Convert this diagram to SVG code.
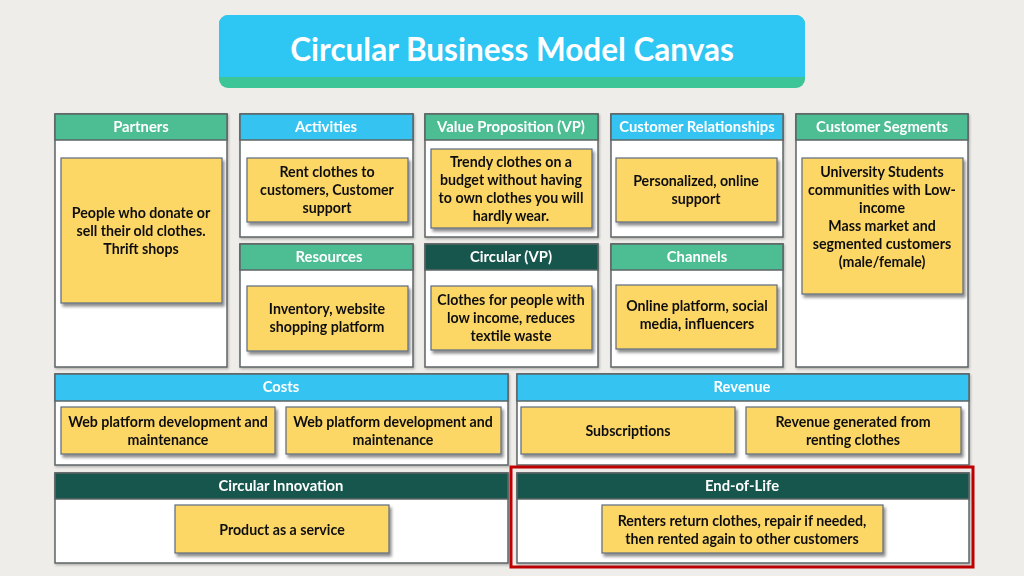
<svg xmlns="http://www.w3.org/2000/svg" width="1024" height="576" viewBox="0 0 1024 576">
<defs>
<filter id="sh" x="-10%" y="-10%" width="130%" height="140%">
<feDropShadow dx="2" dy="3" stdDeviation="1.5" flood-color="#000" flood-opacity="0.45"/>
</filter>
<filter id="psh" x="-5%" y="-5%" width="110%" height="115%">
<feDropShadow dx="1" dy="1.5" stdDeviation="1" flood-color="#000" flood-opacity="0.25"/>
</filter>
</defs>
<style>
.panel{fill:#ffffff;stroke:#5e6466;stroke-width:1.5}
.hg{fill:#4dbd93;stroke:#5e6466;stroke-width:1.5}
.hc{fill:#35c4f1;stroke:#5e6466;stroke-width:1.5}
.hd{fill:#17574e;stroke:#5e6466;stroke-width:1.5}
.note{fill:#fdd766;stroke:#5a6a80;stroke-width:1.2}
.ht{font-family:Lato,"Liberation Sans",sans-serif;font-weight:bold;font-size:14.8px;fill:#ffffff;text-anchor:middle}
.nt{font-family:Lato,"Liberation Sans",sans-serif;font-weight:bold;font-size:14.2px;fill:#111111;text-anchor:middle}
.title{font-family:Lato,"Liberation Sans",sans-serif;font-weight:bold;font-size:31.5px;fill:#ffffff;text-anchor:middle}
</style>
<rect x="0" y="0" width="1024" height="576" fill="#efede9"/>

<g id="title">
<rect x="219" y="15" width="586" height="73" rx="9" fill="#3cc596"/>
<rect x="219" y="15" width="586" height="62" rx="9" fill="#2ec6f3"/>
<rect x="219" y="60" width="586" height="17" fill="#2ec6f3"/>
<text class="title" x="512" y="61">Circular Business Model Canvas</text>
</g>

<g id="partners" filter="url(#psh)">
<rect class="panel" x="55" y="114" width="172" height="253"/>
<rect class="hg" x="55" y="114" width="172" height="26"/>
<text class="ht" x="141" y="132">Partners</text>
<rect class="note" x="61" y="158" width="161" height="145" filter="url(#sh)"/>
<text class="nt" x="141" y="218">People who donate or</text>
<text class="nt" x="141" y="236">sell their old clothes.</text>
<text class="nt" x="141" y="254">Thrift shops</text>
</g>

<g id="activities" filter="url(#psh)">
<rect class="panel" x="240" y="114" width="173" height="123"/>
<rect class="hc" x="240" y="114" width="173" height="26"/>
<text class="ht" x="326" y="132">Activities</text>
<rect class="note" x="247" y="158" width="161" height="64" filter="url(#sh)"/>
<text class="nt" x="327" y="177">Rent clothes to</text>
<text class="nt" x="327" y="195">customers, Customer</text>
<text class="nt" x="327" y="213">support</text>
</g>

<g id="resources" filter="url(#psh)">
<rect class="panel" x="240" y="244" width="173" height="123"/>
<rect class="hg" x="240" y="244" width="173" height="26"/>
<text class="ht" x="329" y="262">Resources</text>
<rect class="note" x="247" y="286" width="161" height="65" filter="url(#sh)"/>
<text class="nt" x="327" y="314">Inventory, website</text>
<text class="nt" x="327" y="332">shopping platform</text>
</g>

<g id="value-proposition" filter="url(#psh)">
<rect class="panel" x="425" y="114" width="173" height="123"/>
<rect class="hg" x="425" y="114" width="173" height="26"/>
<text class="ht" x="511" y="132">Value Proposition (VP)</text>
<rect class="note" x="431" y="149" width="161" height="79" filter="url(#sh)"/>
<text class="nt" x="511" y="167">Trendy clothes on a</text>
<text class="nt" x="511" y="185">budget without having</text>
<text class="nt" x="511" y="203">to own clothes you will</text>
<text class="nt" x="511" y="221">hardly wear.</text>
</g>

<g id="circular-vp" filter="url(#psh)">
<rect class="panel" x="425" y="244" width="173" height="123"/>
<rect class="hd" x="425" y="244" width="173" height="26"/>
<text class="ht" x="511" y="262">Circular (VP)</text>
<rect class="note" x="431" y="286" width="161" height="64" filter="url(#sh)"/>
<text class="nt" x="511" y="305">Clothes for people with</text>
<text class="nt" x="511" y="323">low income, reduces</text>
<text class="nt" x="511" y="341">textile waste</text>
</g>

<g id="customer-relationships" filter="url(#psh)">
<rect class="panel" x="611" y="114" width="172" height="123"/>
<rect class="hc" x="611" y="114" width="172" height="26"/>
<text class="ht" x="697" y="132">Customer Relationships</text>
<rect class="note" x="616" y="158" width="161" height="64" filter="url(#sh)"/>
<text class="nt" x="696" y="186">Personalized, online</text>
<text class="nt" x="696" y="204">support</text>
</g>

<g id="channels" filter="url(#psh)">
<rect class="panel" x="611" y="244" width="172" height="123"/>
<rect class="hg" x="611" y="244" width="172" height="26"/>
<text class="ht" x="697" y="262">Channels</text>
<rect class="note" x="616" y="285" width="161" height="64" filter="url(#sh)"/>
<text class="nt" x="697" y="311">Online platform, social</text>
<text class="nt" x="697" y="329">media, influencers</text>
</g>

<g id="customer-segments" filter="url(#psh)">
<rect class="panel" x="796" y="114" width="172" height="253"/>
<rect class="hg" x="796" y="114" width="172" height="26"/>
<text class="ht" x="882" y="132">Customer Segments</text>
<rect class="note" x="802" y="158" width="161" height="136" filter="url(#sh)"/>
<text class="nt" x="882" y="177">University Students</text>
<text class="nt" x="882" y="195">communities with Low-</text>
<text class="nt" x="882" y="213">income</text>
<text class="nt" x="882" y="231">Mass market and</text>
<text class="nt" x="882" y="249">segmented customers</text>
<text class="nt" x="882" y="267">(male/female)</text>
</g>

<g id="costs" filter="url(#psh)">
<rect class="panel" x="55" y="374" width="453" height="91"/>
<rect class="hc" x="55" y="374" width="453" height="27"/>
<text class="ht" x="281" y="392">Costs</text>
<rect class="note" x="61" y="407" width="214" height="47" filter="url(#sh)"/>
<text class="nt" x="168" y="427">Web platform development and</text>
<text class="nt" x="168" y="445">maintenance</text>
<rect class="note" x="286" y="407" width="215" height="47" filter="url(#sh)"/>
<text class="nt" x="393" y="427">Web platform development and</text>
<text class="nt" x="393" y="445">maintenance</text>
</g>

<g id="revenue" filter="url(#psh)">
<rect class="panel" x="517" y="374" width="452" height="91"/>
<rect class="hc" x="517" y="374" width="452" height="27"/>
<text class="ht" x="742" y="392">Revenue</text>
<rect class="note" x="521" y="407" width="214" height="47" filter="url(#sh)"/>
<text class="nt" x="628" y="436">Subscriptions</text>
<rect class="note" x="746" y="407" width="215" height="47" filter="url(#sh)"/>
<text class="nt" x="853" y="427">Revenue generated from</text>
<text class="nt" x="853" y="445">renting clothes</text>
</g>

<g id="circular-innovation" filter="url(#psh)">
<rect class="panel" x="55" y="473" width="453" height="90"/>
<rect class="hd" x="55" y="473" width="453" height="26"/>
<text class="ht" x="281" y="491">Circular Innovation</text>
<rect class="note" x="175" y="505" width="214" height="48" filter="url(#sh)"/>
<text class="nt" x="282" y="535">Product as a service</text>
</g>

<g id="end-of-life">
<rect x="511" y="467" width="462" height="100" fill="none" stroke="#c00000" stroke-width="3"/>
<g filter="url(#psh)">
<rect class="panel" x="517" y="473" width="452" height="90"/>
<rect class="hd" x="517" y="473" width="452" height="26"/>
<text class="ht" x="742" y="491">End-of-Life</text>
<rect class="note" x="602" y="505" width="281" height="48" filter="url(#sh)"/>
<text class="nt" x="742" y="526">Renters return clothes, repair if needed,</text>
<text class="nt" x="742" y="544">then rented again to other customers</text>
</g>
</g>

<g id="connectors"></g>
</svg>
